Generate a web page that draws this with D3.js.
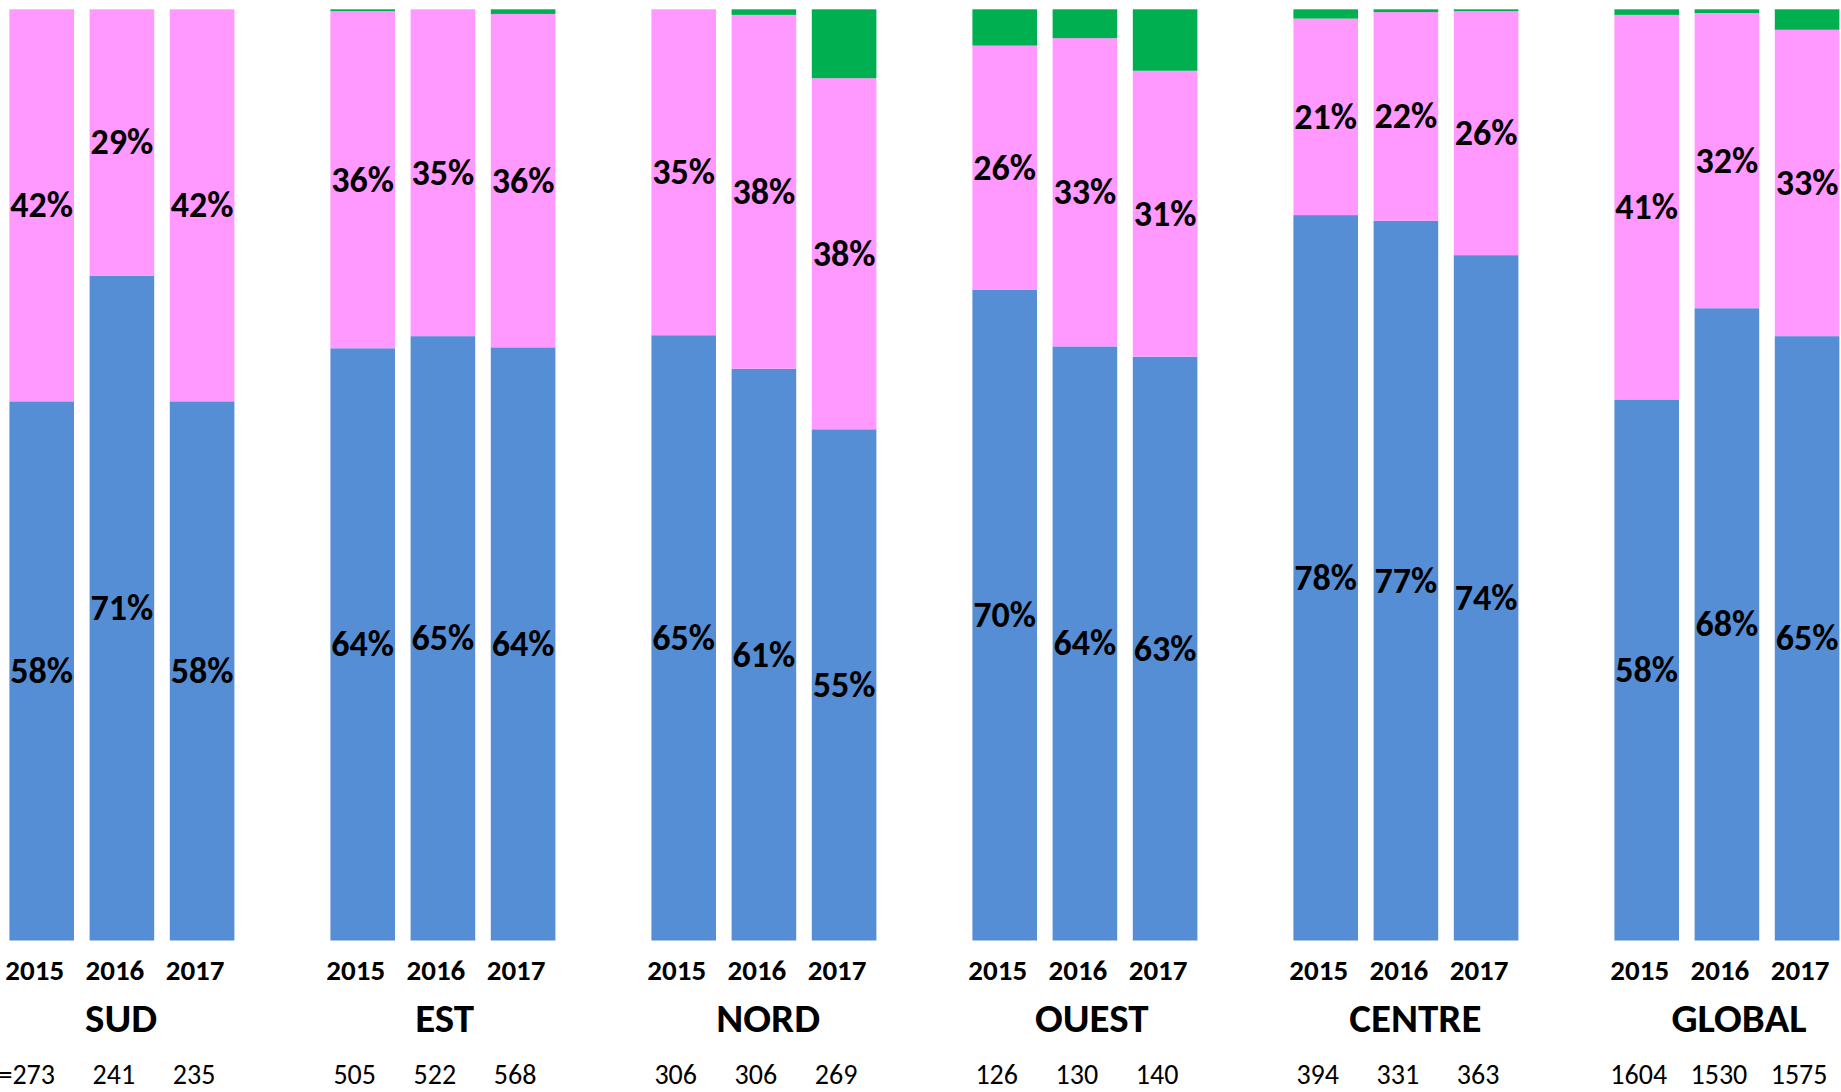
<!DOCTYPE html>
<html>
<head>
<meta charset="utf-8">
<script src="https://cdn.jsdelivr.net/npm/d3@7"></script>
<style>
  html, body { margin: 0; padding: 0; background: #fff; overflow: hidden; }
  svg { display: block; }
  text { font-family: Carlito, Calibri, Lato, "Open Sans", sans-serif; fill: #000; }
</style>
</head>
<body>
<svg id="chart" width="1841" height="1092"></svg>
<script>
const regions = ["SUD", "EST", "NORD", "OUEST", "CENTRE", "GLOBAL"];
const years = ["2015", "2016", "2017"];
const blueValues = [
  [57.9, 71.4, 57.9],
  [63.6, 64.9, 63.7],
  [65.0, 61.4, 54.9],
  [69.9, 63.8, 62.7],
  [77.9, 77.3, 73.6],
  [58.1, 67.9, 64.9]
];
const pinkValues = [
  [42.1, 28.6, 42.1],
  [36.2, 35.1, 35.8],
  [35.0, 38.0, 37.7],
  [26.2, 33.1, 30.7],
  [21.1, 22.4, 26.2],
  [41.3, 31.7, 32.9]
];
const greenValues = [
  [0.0, 0.0, 0.0],
  [0.2, 0.0, 0.5],
  [0.0, 0.6, 7.4],
  [3.9, 3.1, 6.6],
  [1.0, 0.3, 0.2],
  [0.6, 0.4, 2.2]
];
const sampleSizes = [
  [273, 241, 235],
  [505, 522, 568],
  [306, 306, 269],
  [126, 130, 140],
  [394, 331, 363],
  [1604, 1530, 1575]
];
const seriesKeys = ["blue", "pink", "green"];
const seriesColors = ["#558ED5", "#FF99FF", "#00B050"];

const rows = [];
regions.forEach((r, i) => years.forEach((y, j) => rows.push({
  region: r, year: y,
  blue: blueValues[i][j], pink: pinkValues[i][j], green: greenValues[i][j],
  n: sampleSizes[i][j], first: i === 0 && j === 0
})));

const svg = d3.select("#chart");
const x0 = d3.scaleBand().domain(regions).range([1.6, 1.6 + 6 * 321]).paddingInner(0).paddingOuter(0);
const x1 = d3.scaleBand().domain(years).range([0, 240.6]).paddingInner(0.1945).paddingOuter(0.0973);
const xLabel = d3.scalePoint().domain(regions).range([121, 1739]);
const y = d3.scaleLinear().domain([0, 100]).range([940.5, 9.3]);
const color = d3.scaleOrdinal().domain(seriesKeys).range(seriesColors);

const stacked = d3.stack().keys(seriesKeys)(rows);
const bx = d => x0(d.data.region) + x1(d.data.year);

const layers = svg.append("g").selectAll("g").data(stacked).join("g")
  .attr("fill", s => color(s.key));
layers.selectAll("rect").data(s => s).join("rect")
  .attr("x", bx)
  .attr("width", x1.bandwidth())
  .attr("y", d => y(d[1]))
  .attr("height", d => Math.max(0, y(d[0]) - y(d[1])));

// percentage labels on blue and pink
const labelLayers = stacked.filter(s => s.key !== "green");
svg.append("g").selectAll("g").data(labelLayers).join("g")
  .selectAll("text").data(s => s).join("text")
  .attr("x", d => bx(d) + x1.bandwidth() / 2)
  .attr("y", d => (y(d[0]) + y(d[1])) / 2)
  .attr("text-anchor", "middle")
  .attr("dominant-baseline", "central")
  .attr("font-weight", "bold")
  .attr("font-size", 36)
  .text(d => Math.round(d[1] - d[0]) + "%");

// year labels
svg.append("g").selectAll("text").data(rows).join("text")
  .attr("x", d => x0(d.region) + x1(d.year) + x1.bandwidth() / 2 - 7)
  .attr("y", 970)
  .attr("text-anchor", "middle")
  .attr("dominant-baseline", "central")
  .attr("font-weight", "bold")
  .attr("font-size", 29)
  .text(d => d.year);

// region labels
svg.append("g").selectAll("text").data(regions).join("text")
  .attr("x", r => xLabel(r))
  .attr("y", 1018)
  .attr("text-anchor", "middle")
  .attr("dominant-baseline", "central")
  .attr("font-weight", "bold")
  .attr("font-size", 41)
  .text(r => r);

// sample sizes
const nText = svg.append("g").selectAll("text").data(rows).join("text")
  .attr("x", d => x0(d.region) + x1(d.year) + x1.bandwidth() / 2 - 8)
  .attr("y", 1074)
  .attr("text-anchor", "middle")
  .attr("dominant-baseline", "central")
  .attr("font-size", 28)
  .text(d => d.n);
nText.filter(d => d.first).each(function(d) {
  const w = this.getComputedTextLength();
  const cx = +d3.select(this).attr("x");
  svg.append("text")
    .attr("x", cx - w / 2)
    .attr("y", 1074)
    .attr("text-anchor", "end")
    .attr("dominant-baseline", "central")
    .attr("font-size", 28)
    .text("n=");
});
</script>
</body>
</html>
